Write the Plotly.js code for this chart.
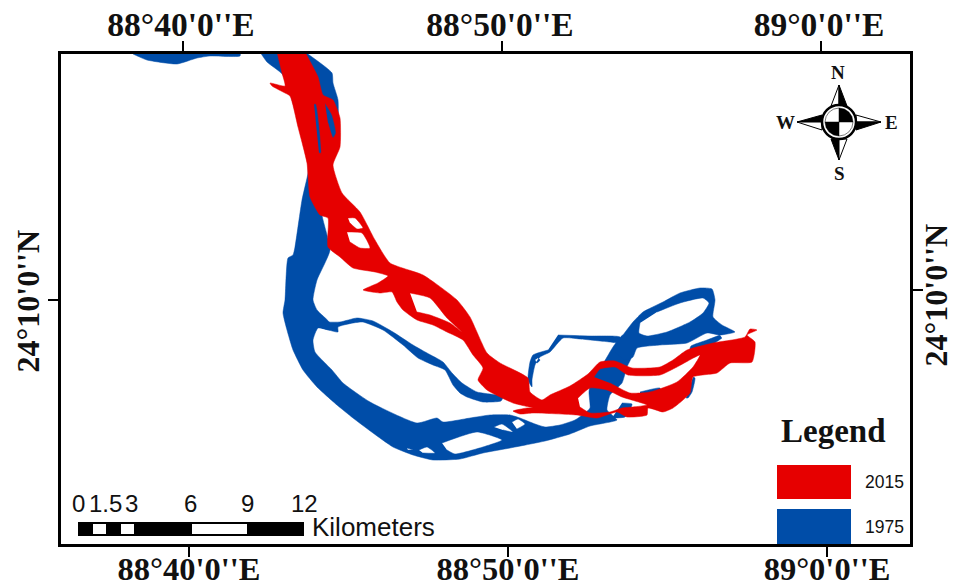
<!DOCTYPE html>
<html><head><meta charset="utf-8">
<script src="https://cdn.plot.ly/plotly-3.0.1.min.js"></script>
<style>html,body{margin:0;padding:0;background:#fff}</style></head>
<body><div id="map" style="width:968px;height:588px"></div>
<script>
// Map grid: 1 unit = 1/31.9 arc-minute; 88deg40' = 189 E, 24deg10' = 300 S on the lower/left graticule.
const lonTicksBottom = [189, 508, 827];
const lonTicksTop = [183, 502, 821];
const lonLabels = ["88°40'0''E", "88°50'0''E", "89°0'0''E"];
const latTickLeft = [300];
const latTickRight = [290];
const latLabels = ["24°10'0''N"];

const blueStripX = [133,147,177,197,210,240,240,133];
const blueStripY = [54,60,64,58,56,56,52,52];

const blueMainX = [260,267,283,300,308,308,302,295,293,288,285,283,287,293,303,317,337,353,373,393,413,433,460,483,510,545,570,590,617,612,607,610,622,627,633,623,613,604,592,589,590,585,575,560,545,535,520,510,490,470,443,437,417,370,343,332,315,313,318,330,330,317,313,317,330,322,322,335,338,338,333,332,305,null,
 442,477,502,483,455,447,null, 419,427,435,423,null, 407,413,408,null, 494,502,513,503,null, 512,518,525,517];
const blueMainY = [52,62,75,127,163,173,200,247,255,258,300,313,330,350,370,387,405,418,433,447,455,460,459,453,448,441,434,426,420,415,410,395,383,367,353,335,347,362,377,392,408,413,420,425,427,424,418,415,415,418,422,418,423,402,383,370,352,340,328,330,323,310,300,280,250,215,170,145,125,100,83,73,52,null,
 443,432,440,447,454,450,null, 450,447,453,453,null, 448,450,450,null, 427,424,432,430,null, 422,419,424,429];

const blueWestBranchX = [322,340,357,373,393,413,427,443,452,462,477,497,503,501,483,467,460,453,445,433,418,403,383,363,353,338,338,322];
const blueWestBranchY = [322,322,318,321,332,345,353,362,373,383,392,395,397,401,402,397,393,385,370,365,358,345,330,322,323,327,332,328];

const blueEastBranchX = [558,590,620,620,610,580,563,550,540,535,532,532,528,530,533,548,null,535,537,540,538];
const blueEastBranchY = [335,336,337,343,342,339,338,352,357,365,380,387,380,362,355,350,null,360,363,360,358];

const blueLoopX = [623,633,643,663,680,700,712,715,713,722,735,720,707,687,660,637,633,625,613,null,640,639,647,667,690,703,709,703,680,657];
const blueLoopY = [335,322,312,302,293,288,289,300,317,325,332,335,333,343,345,348,357,360,350,null,323,333,336,332,322,313,303,298,303,312];

const bluePatchX = [720,707,691,690,713,722,null,622,632,630,625,612,null,693,695,692,688,686,null,640,660,660,640];
const bluePatchY = [335,340,346,349,344,338,null,403,404,410,417,418,null,377,378,392,398,398,null,392,388,392,394];

const redX = [277,282,285,270,272,283,290,298,307,310,320,328,328,340,353,375,388,378,363,380,392,397,403,417,433,447,463,473,483,478,487,513,533,527,513,520,533,577,597,617,627,647,648,663,673,690,693,717,730,752,755,747,757,750,745,713,687,673,660,632,615,600,588,570,550,542,530,528,500,487,470,457,423,390,375,360,342,333,340,340,333,323,318,305,null,
 594,600,615,628,660,677,700,693,677,650,630,610,null,
 578,590,607,622,647,633,622,610,590,580,null,
 348,355,363,357,350,null,
 347,362,370,360,350,null,
 325,332,336,333,328,null,
 314,316,321,319,null,
 410,430,447,462,450,430,417];
const redY = [52,73,86,83,86,92,96,127,163,197,215,218,247,257,268,272,276,283,290,293,292,302,310,320,325,332,340,355,368,380,390,403,408,408,411,414,413,415,418,412,417,415,408,412,408,393,377,373,363,362,342,335,330,329,337,343,350,360,367,368,361,362,374,386,395,400,392,378,363,353,317,300,275,263,240,212,193,165,147,118,100,95,77,52,null,
 377,369,367,375,375,367,355,367,382,392,393,383,null,
 398,388,390,397,405,407,408,412,413,407,null,
 218,218,228,229,223,null,
 232,233,248,248,242,null,
 103,115,133,138,123,null,
 104,104,153,153,null,
 293,298,318,332,323,315,312];

const legendNames = ["2015", "1975"];
const RED = "#e60000", BLUE = "#004da8";
const poly = (x, y, c, name) => ({type:"scatter", mode:"lines", x, y, name, fill:"toself", fillcolor:c,
  line:{width:0.5,color:c,shape:"spline",smoothing:0.5}, hoverinfo:"name", showlegend:false, connectgaps:false});

const traces = [
  poly(blueStripX, blueStripY, BLUE, legendNames[1]),
  poly(blueMainX, blueMainY, BLUE, legendNames[1]),
  poly(blueWestBranchX, blueWestBranchY, BLUE, legendNames[1]),
  poly(blueEastBranchX, blueEastBranchY, BLUE, legendNames[1]),
  poly(blueLoopX, blueLoopY, BLUE, legendNames[1]),
  poly(bluePatchX, bluePatchY, BLUE, legendNames[1]),
  poly(redX, redY, RED, legendNames[0])
];

const rect = (x0,y0,x1,y1,fill,lw) => ({type:"rect",xref:"x",yref:"y",x0,y0,x1,y1,fillcolor:fill,line:{width:lw||0,color:"#000"}});
const path = (d,fill,lw) => ({type:"path",xref:"x",yref:"y",path:d,fillcolor:fill,line:{width:lw,color:"#000"}});
const shapes = [
  // legend swatches
  rect(777,465,851,499,RED), rect(777,509,851,544,BLUE),
  // scale bar
  rect(78,522,304,536,"#000"),
  rect(93,524,106,534,"#fff"), rect(121,524,134,534,"#fff"), rect(192,524,247,534,"#fff"),
  // compass points
  path("M839,85 L831,106 L839,106 Z","#fff",1), path("M839,85 L847,106 L839,106 Z","#000",1),
  path("M881,122 L856,115 L856,122 Z","#fff",1), path("M881,122 L856,130 L856,122 Z","#000",1),
  path("M839,160 L831,139 L839,139 Z","#000",1), path("M839,160 L847,139 L839,139 Z","#fff",1),
  path("M797,122 L822,115 L822,122 Z","#000",1), path("M797,122 L822,130 L822,122 Z","#fff",1),
  {type:"circle",xref:"x",yref:"y",x0:822,x1:856,y0:105,y1:139,fillcolor:"#fff",line:{width:2.5,color:"#000"}},
  path("M839,108 L844.4,109.1 L848.9,112.1 L851.9,116.6 L853,122 L839,122 Z","#000",0.5),
  path("M839,136 L833.6,134.9 L829.1,131.9 L826.1,127.4 L825,122 L839,122 Z","#000",0.5),
  path("M839,108 L833.6,109.1 L829.1,112.1 L826.1,116.6 L825,122 L839,122 Z","#fff",0.5),
  path("M839,136 L844.4,134.9 L848.9,131.9 L851.9,127.4 L853,122 L839,122 Z","#fff",0.5)
];

const note = (text,x,y,size,family,extra) => Object.assign({text,x,y,xref:"x",yref:"y",showarrow:false,
  xanchor:"center",yanchor:"middle",font:{size,family,color:"#111"}},extra||{});
const SERIF = "Liberation Serif", SANS = "Liberation Sans";
const annotations = [
  note("<b>N</b>",838,72,19,SERIF), note("<b>S</b>",839,173,19,SERIF), note("<b>W</b>",785,122,19,SERIF), note("<b>E</b>",891,122,19,SERIF),
  note("<b>Legend</b>",833,431,33,SERIF),
  note("2015",884,482,17.5,SANS), note("1975",884,527,17.5,SANS),
  note("0",78,503,24,SANS), note("1.5",105,503,24,SANS), note("3",131,503,24,SANS),
  note("6",190,503,24,SANS), note("9",247,503,24,SANS), note("12",304,503,24,SANS),
  note("Kilometers",373.5,527,26,SANS)
];

const lonFontTop = {family:SERIF,size:33.5,color:"#111",weight:700};
const lonFontBottom = {family:SERIF,size:32.5,color:"#111",weight:700};
const latFont = {family:SERIF,size:32,color:"#111",weight:700};
const axisBase = {showgrid:false,zeroline:false,showline:true,linecolor:"#000",linewidth:2.5,ticks:"outside",ticklen:10,tickwidth:2,tickcolor:"#000",fixedrange:true};
const layout = {
  width:968,height:588,margin:{l:61,r:58,t:54,b:44},paper_bgcolor:"#fff",plot_bgcolor:"#fff",showlegend:false,
  xaxis:Object.assign({},axisBase,{range:[61,910],tickmode:"array",tickvals:lonTicksBottom,ticktext:lonLabels,tickfont:lonFontBottom,side:"bottom",anchor:"y",ticklabelstandoff:-16}),
  xaxis2:Object.assign({},axisBase,{range:[61,910],tickmode:"array",tickvals:lonTicksTop,ticktext:lonLabels,tickfont:lonFontTop,side:"top",overlaying:"x",anchor:"y",ticklabelstandoff:-8,ticklabelshift:-2}),
  yaxis:Object.assign({},axisBase,{range:[544,54],tickmode:"array",tickvals:latTickLeft,ticktext:latLabels,tickfont:latFont,tickangle:-90,side:"left",anchor:"x",ticklabelstandoff:-4,ticklabelshift:-6}),
  yaxis2:Object.assign({},axisBase,{range:[544,54],tickmode:"array",tickvals:latTickRight,ticktext:latLabels,tickfont:latFont,tickangle:-90,side:"right",overlaying:"y",anchor:"x",ticklabelstandoff:-14,ticklabelshift:-10}),
  shapes,annotations
};
// invisible carrier so the secondary axes are drawn
traces.push({type:"scatter",x:[lonTicksTop[0]],y:[latTickRight[0]],xaxis:"x2",yaxis:"y2",mode:"none",hoverinfo:"skip",showlegend:false});
Plotly.newPlot("map",traces,layout,{displayModeBar:false,responsive:false});
</script></body></html>
